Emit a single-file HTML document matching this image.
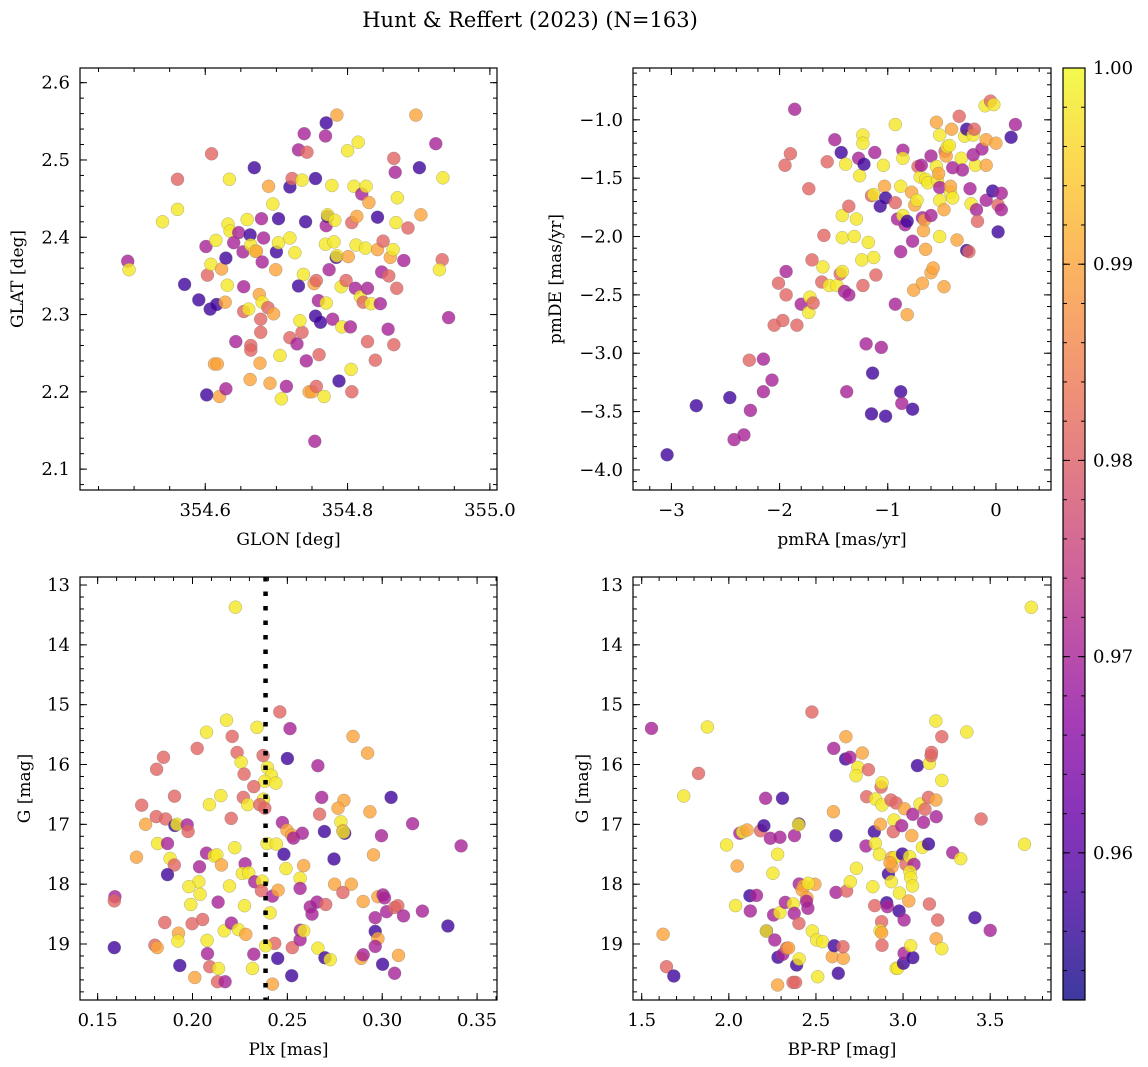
<!DOCTYPE html>
<html><head><meta charset="utf-8">
<style>
html,body{margin:0;padding:0;background:#fff;}
svg{display:block;font-family:"DejaVu Serif","Liberation Serif",serif;}
</style></head>
<body>
<svg id="fig" width="1148" height="1067" viewBox="0 0 1148 1067" xmlns="http://www.w3.org/2000/svg">
<rect width="1148" height="1067" fill="#fff"/>
<text x="530" y="27" font-size="21" text-anchor="middle">Hunt &amp; Reffert (2023) (N=163)</text>
</svg>
<script>
// membership probability levels
const Y=0.998, O=0.99, K=0.981, P=0.97, I=0.957;
// ---------- Panel A: GLON / GLAT ----------
const glon=[354.491,354.493,354.540,354.561,354.561,354.609,354.634,354.669,354.571,354.591,354.607,354.616,354.603,354.601,354.608,354.615,354.623,354.629,354.628,354.631,354.632,354.635,354.640,354.647,354.643,354.613,354.617,354.602,354.620,354.629,354.653,354.654,354.654,354.659,354.663,354.664,354.661,354.664,354.664,354.663,354.670,354.672,354.679,354.680,354.682,354.676,354.680,354.678,354.678,354.677,354.688,354.691,354.689,354.695,354.696,354.700,354.703,354.703,354.699,354.705,354.714,354.707,354.719,354.719,354.722,354.726,354.719,354.729,354.731,354.736,354.736,354.738,354.731,354.733,354.739,354.741,354.742,354.743,354.746,354.750,354.753,354.755,354.754,354.756,354.756,354.755,354.759,354.760,354.762,354.767,354.769,354.770,354.770,354.769,354.770,354.772,354.772,354.774,354.778,354.779,354.781,354.782,354.784,354.785,354.785,354.788,354.792,354.791,354.798,354.800,354.801,354.804,354.805,354.806,354.806,354.809,354.813,354.812,354.811,354.815,354.818,354.820,354.822,354.826,354.825,354.828,354.828,354.830,354.833,354.839,354.842,354.842,354.846,354.848,354.850,354.858,354.857,354.860,354.864,354.865,354.865,354.867,354.869,354.870,354.868,354.879,354.885,354.896,354.901,354.903,354.924,354.933,354.929,354.934,354.942];
const glat=[2.369,2.358,2.420,2.436,2.475,2.508,2.475,2.490,2.339,2.319,2.307,2.313,2.351,2.388,2.365,2.396,2.359,2.373,2.316,2.338,2.417,2.408,2.393,2.406,2.265,2.236,2.236,2.196,2.194,2.204,2.381,2.336,2.304,2.423,2.403,2.390,2.307,2.260,2.254,2.216,2.382,2.382,2.424,2.368,2.399,2.326,2.316,2.294,2.277,2.237,2.309,2.211,2.466,2.443,2.301,2.381,2.424,2.393,2.358,2.247,2.207,2.191,2.399,2.465,2.476,2.380,2.270,2.262,2.513,2.474,2.277,2.352,2.337,2.292,2.534,2.420,2.240,2.510,2.200,2.200,2.340,2.476,2.136,2.207,2.344,2.298,2.318,2.248,2.290,2.194,2.531,2.548,2.315,2.391,2.415,2.427,2.429,2.358,2.467,2.294,2.394,2.422,2.374,2.558,2.376,2.214,2.284,2.336,2.344,2.512,2.375,2.284,2.229,2.200,2.419,2.466,2.427,2.390,2.334,2.523,2.323,2.456,2.316,2.466,2.386,2.334,2.265,2.445,2.314,2.241,2.426,2.384,2.314,2.355,2.395,2.350,2.281,2.374,2.384,2.261,2.502,2.484,2.334,2.451,2.419,2.370,2.412,2.558,2.490,2.429,2.521,2.371,2.358,2.477,2.296];
const probA=[P,Y,Y,Y,K,K,Y,I,I,I,I,I,K,P,Y,Y,O,I,O,Y,Y,Y,P,P,P,O,O,I,O,P,P,P,K,Y,I,Y,Y,K,K,O,Y,O,P,P,P,O,Y,K,K,O,K,O,O,Y,O,I,I,Y,O,Y,P,Y,Y,I,K,Y,K,P,P,Y,K,Y,I,Y,P,I,P,K,O,O,O,I,P,K,K,I,P,K,I,Y,P,I,Y,Y,P,I,Y,P,Y,P,Y,Y,I,O,Y,I,Y,Y,K,Y,O,P,Y,K,K,Y,O,Y,P,Y,Y,P,K,Y,Y,P,K,O,Y,K,I,O,P,P,K,K,P,O,Y,K,K,P,K,Y,Y,P,K,O,I,O,P,K,Y,Y,P];
// ---------- Panel B: pmRA / pmDE ----------
const pmra=[-3.04,-2.77,-2.46,-2.42,-2.33,-2.27,-2.28,-2.15,-2.15,-2.07,-2.05,-2.01,-1.97,-1.94,-1.94,-1.84,-1.80,-1.73,-1.72,-1.69,-1.70,-1.73,-1.90,-1.95,-1.86,-1.60,-1.61,-1.59,-1.56,-1.54,-1.49,-1.47,-1.44,-1.42,-1.43,-1.39,-1.42,-1.42,-1.40,-1.36,-1.36,-1.31,-1.29,-1.27,-1.26,-1.23,-1.23,-1.22,-1.23,-1.24,-1.20,-1.18,-1.15,-1.13,-1.13,-1.11,-1.12,-1.14,-1.15,-1.06,-1.07,-1.38,-1.04,-1.03,-1.02,-1.02,-0.93,-0.93,-0.93,-0.91,-0.88,-0.88,-0.86,-0.86,-0.86,-0.84,-0.82,-0.82,-0.77,-0.78,-0.75,-0.73,-0.72,-0.70,-0.69,-0.68,-0.66,-0.67,-0.65,-0.65,-0.63,-0.60,-0.60,-0.60,-0.58,-0.76,-0.68,-0.55,-0.55,-0.54,-0.53,-0.52,-0.52,-0.52,-0.52,-0.48,-0.48,-0.47,-0.46,-0.45,-0.43,-0.42,-0.42,-0.41,-0.40,-0.40,-0.36,-0.34,-0.32,-0.31,-0.29,-0.27,-0.27,-0.25,-0.24,-0.23,-0.21,-0.20,-0.19,-0.21,-0.18,-0.17,-0.13,-0.09,-0.09,-0.09,-0.10,-0.05,-0.02,-0.03,0.00,0.02,0.05,0.05,0.02,0.14,0.18,-0.88,-0.87,-0.77];
const pmde=[-3.87,-3.45,-3.38,-3.74,-3.70,-3.49,-3.06,-3.05,-3.33,-3.23,-2.76,-2.40,-2.72,-2.30,-2.50,-2.76,-2.58,-2.65,-2.52,-2.57,-2.20,-1.59,-1.29,-1.39,-0.91,-2.26,-2.39,-1.99,-1.36,-2.42,-1.17,-2.42,-2.32,-2.30,-1.28,-1.38,-1.82,-2.01,-2.47,-2.50,-1.74,-2.00,-1.85,-1.33,-1.48,-1.13,-1.20,-1.38,-2.42,-2.20,-2.92,-2.05,-1.65,-2.18,-1.64,-2.33,-1.28,-3.17,-3.52,-2.95,-1.74,-3.33,-1.39,-1.57,-1.67,-3.54,-1.04,-1.71,-2.58,-1.85,-2.13,-1.57,-1.26,-1.33,-1.82,-1.90,-1.87,-2.67,-2.04,-1.62,-1.73,-1.69,-1.40,-1.49,-1.39,-1.84,-1.86,-1.95,-2.11,-1.51,-1.54,-1.82,-1.31,-2.31,-2.27,-2.46,-2.40,-1.02,-1.40,-1.52,-1.46,-2.00,-1.58,-1.13,-1.69,-2.43,-1.77,-1.27,-1.31,-1.23,-1.22,-1.62,-1.57,-1.08,-1.67,-1.41,-2.03,-0.97,-1.33,-1.43,-1.14,-1.08,-2.12,-2.13,-1.59,-1.72,-1.13,-1.08,-1.39,-1.30,-1.77,-1.87,-1.25,-1.39,-1.17,-1.69,-0.88,-0.84,-0.87,-1.61,-1.20,-1.73,-1.77,-1.63,-1.96,-1.15,-1.04,-3.33,-3.43,-3.48];
const probB=[I,I,I,P,P,P,K,P,P,P,K,K,K,P,K,K,P,Y,Y,K,K,K,K,K,P,Y,K,K,K,Y,P,Y,K,Y,I,Y,Y,Y,P,P,K,Y,Y,P,Y,Y,Y,I,K,Y,P,Y,K,Y,Y,K,P,I,I,P,I,P,Y,O,I,I,Y,K,P,P,P,Y,P,Y,Y,P,I,O,P,O,O,Y,K,Y,P,P,O,O,O,Y,Y,P,P,O,O,O,O,O,Y,Y,O,Y,P,Y,Y,O,O,K,O,Y,Y,Y,O,O,Y,P,O,K,Y,P,Y,I,I,K,P,Y,Y,K,Y,P,P,K,P,O,O,P,Y,K,Y,I,O,K,P,P,I,I,P,I,P,I];
// ---------- Panel C: Plx / G ----------
const plx=[.2226,.2460,.2514,.2179,.2340,.2074,.2209,.2846,.2923,.2025,.1847,.1811,.2235,.2256,.2272,.2372,.2500,.2661,.2395,.2416,.2381,.2439,.2323,.2149,.2089,.1905,.1732,.2268,.2291,.2374,.2354,.2381,.2681,.3047,.2798,.2767,.2935,.2670,.2204,.1809,.1858,.1753,.1907,.1918,.1972,.1977,.2474,.2498,.2523,.2532,.2579,.2695,.2782,.2793,.2802,.2796,.2996,.3160,.3416,.1816,.1868,.1705,.1882,.1904,.1868,.2074,.2114,.2128,.2153,.2037,.2223,.2277,.2263,.2296,.2393,.2442,.2482,.2493,.2586,.2567,.2746,.2954,.2033,.1981,.2040,.1991,.2135,.2195,.2274,.2328,.2368,.2363,.2421,.2451,.2567,.2749,.2837,.2793,.2900,.2977,.3004,.3012,.2621,.2630,.2656,.2702,.3023,.3065,.3082,.3112,.3212,.2963,.3346,.1591,.1588,.1588,.1802,.1814,.1854,.1926,.1923,.1998,.2053,.2077,.2079,.2167,.2205,.2242,.2281,.2409,.2433,.2386,.2526,.2568,.2567,.2586,.2661,.2698,.2726,.2889,.2900,.2963,.2977,.2963,.3002,.3086,.3065,.1933,.2091,.2137,.2012,.2132,.2172,.2316,.2323,.2449,.2421,.2523];
const gmagC=[13.37,15.12,15.40,15.26,15.38,15.46,15.53,15.53,15.81,15.73,15.88,16.08,15.80,15.96,16.16,15.85,15.90,16.02,16.05,16.18,16.28,16.31,16.37,16.52,16.67,16.53,16.68,16.55,16.67,16.58,16.67,16.73,16.55,16.55,16.60,16.73,16.79,16.83,16.90,16.87,16.91,17.00,17.02,17.00,17.01,17.12,16.97,17.10,17.18,17.23,17.15,17.12,16.96,17.11,17.15,17.13,17.19,16.99,17.36,17.32,17.32,17.55,17.57,17.68,17.84,17.48,17.53,17.51,17.68,17.71,17.39,17.66,17.82,17.81,17.32,17.33,17.50,17.74,17.69,17.90,17.58,17.51,17.96,18.04,18.17,18.34,18.30,18.03,18.36,17.96,17.95,18.11,18.20,18.10,18.07,18.00,18.00,18.14,18.29,18.21,18.18,18.23,18.38,18.50,18.30,18.34,18.46,18.39,18.36,18.53,18.45,18.56,18.70,18.21,18.28,19.06,19.02,19.06,18.64,18.82,18.95,18.66,18.59,18.94,19.16,18.78,18.65,18.76,18.84,18.48,18.99,19.03,19.06,18.77,18.93,18.78,19.07,19.23,19.26,19.24,19.18,18.79,18.91,19.04,19.34,19.19,19.49,19.36,19.38,19.41,19.56,19.63,19.63,19.41,19.17,19.24,19.67,19.53];
const probC=[Y,K,P,Y,Y,Y,K,O,O,K,K,K,K,Y,K,K,I,P,Y,Y,Y,Y,K,Y,Y,K,K,K,Y,Y,K,K,P,I,O,O,O,K,K,K,K,O,I,Y,P,K,P,O,O,P,P,I,Y,O,I,Y,P,P,P,Y,P,O,Y,K,I,P,Y,Y,O,P,Y,P,Y,Y,Y,Y,I,Y,O,Y,I,O,Y,Y,Y,Y,P,Y,Y,P,Y,K,P,O,P,O,O,K,O,O,P,P,P,P,P,K,P,K,K,P,P,P,I,P,K,I,K,O,K,O,Y,K,K,Y,P,Y,P,Y,O,Y,K,Y,K,P,P,Y,Y,I,Y,O,P,I,O,P,I,O,P,I,K,Y,O,K,P,Y,P,I,O,I];
// ---------- Panel D: BP-RP / G ----------
const bprp=[1.556,1.877,1.826,1.741,1.623,1.642,1.684,2.211,2.308,1.987,2.048,2.063,2.079,2.105,2.182,2.201,2.238,2.293,2.280,2.253,2.377,2.402,2.400,2.038,2.121,2.159,2.123,2.216,2.215,2.257,2.293,2.324,2.370,2.375,2.402,2.404,2.429,2.421,2.448,2.454,2.446,2.494,2.456,2.264,2.282,2.310,2.331,2.343,2.389,2.404,2.280,2.368,2.383,2.510,2.479,2.504,2.538,2.477,2.600,2.602,2.615,2.615,2.676,2.594,2.657,2.605,2.655,2.628,2.672,2.670,2.695,2.766,2.741,2.730,2.801,2.791,2.697,2.732,2.787,2.826,2.835,2.841,2.841,2.864,2.870,2.879,2.874,2.879,2.837,2.877,2.879,2.868,2.877,2.906,2.910,2.931,2.960,2.948,2.944,2.935,2.916,2.933,2.954,2.937,2.925,2.979,2.977,2.996,2.992,3.008,3.017,3.038,3.050,3.063,3.056,3.033,3.040,3.044,3.054,3.006,2.960,2.969,3.002,3.006,3.056,3.044,3.117,3.082,3.098,3.111,3.146,3.151,3.161,3.163,3.146,3.126,3.188,3.190,3.188,3.222,3.222,3.151,3.199,3.190,3.222,3.285,3.331,3.366,3.448,3.412,3.500,3.697,3.736];
const gmagD=[15.396,15.373,16.148,16.526,18.838,19.379,19.535,16.565,16.565,17.345,17.696,17.150,17.128,17.095,17.106,17.022,17.234,17.217,17.501,17.819,17.189,16.994,17.006,18.359,18.192,18.187,18.448,18.783,18.783,18.515,18.476,18.304,18.331,18.487,18.655,17.997,18.031,18.097,18.226,18.404,18.287,18.003,17.986,18.933,19.223,19.173,19.072,19.067,19.351,19.251,19.685,19.641,19.641,19.546,18.783,18.933,18.961,15.123,16.788,15.730,17.189,18.137,18.114,19.212,19.240,19.028,19.045,19.490,15.535,15.908,15.880,15.808,16.047,16.187,16.086,16.538,17.958,17.735,17.362,18.042,17.123,17.318,16.577,17.501,17.000,16.677,16.376,16.304,18.359,18.627,19.022,18.777,18.811,18.309,18.376,16.593,16.643,16.928,17.123,17.557,17.830,17.958,17.552,17.708,17.641,18.148,18.448,17.496,17.022,16.738,17.669,17.540,17.189,17.669,16.833,18.281,17.791,17.891,18.031,18.599,19.407,19.407,19.323,19.156,19.228,19.028,16.967,16.019,16.660,17.384,17.329,15.981,15.852,15.797,16.549,16.749,16.593,16.872,15.273,15.535,16.265,18.331,18.599,18.911,19.078,17.473,17.574,15.457,16.911,18.560,18.772,17.334,13.373];
const probD=[P,Y,K,Y,O,K,I,P,I,Y,O,P,Y,O,K,I,P,P,Y,Y,P,I,Y,Y,I,P,P,I,Y,P,Y,P,Y,P,K,P,O,O,O,P,P,O,Y,P,I,P,K,O,I,Y,O,K,K,Y,Y,Y,Y,K,O,P,I,P,K,O,O,I,K,I,O,I,P,O,Y,Y,K,K,Y,Y,P,Y,I,Y,Y,Y,O,Y,K,Y,K,K,K,Y,O,I,P,K,K,Y,K,O,I,Y,Y,O,O,Y,I,I,P,O,K,Y,O,P,P,O,Y,Y,Y,P,Y,Y,I,P,I,Y,P,I,Y,Y,I,Y,K,K,K,K,O,P,Y,K,Y,K,K,O,Y,P,Y,Y,K,I,P,Y,Y];
// ---------- tick labels ----------
const ticksA_x=[354.6,354.8,355.0], ticksA_y=[2.1,2.2,2.3,2.4,2.5,2.6];
const ticksB_x=[-3,-2,-1,0], ticksB_y=[-4.0,-3.5,-3.0,-2.5,-2.0,-1.5,-1.0];
const ticksC_x=[0.15,0.20,0.25,0.30,0.35], ticksG=[13,14,15,16,17,18,19];
const ticksD_x=[1.5,2.0,2.5,3.0,3.5];
const cbTicks=[0.96,0.97,0.98,0.99,1.00];
const plxLine=0.2385;
const vmin=0.9525, vmax=1.0;

const NS="http://www.w3.org/2000/svg";
const svg=document.getElementById('fig');
function mk(tag,attrs,parent){const e=document.createElementNS(NS,tag);for(const k in attrs)e.setAttribute(k,attrs[k]);(parent||svg).appendChild(e);return e;}
const stops=[[0,13,8,135],[.1,65,4,157],[.2,106,0,168],[.3,143,13,164],[.4,177,42,144],[.5,204,71,120],[.6,225,100,98],[.7,242,132,75],[.8,252,166,54],[.9,252,206,37],[1,240,249,33]];
function plasma(t){t=Math.max(0,Math.min(1,t));for(let i=1;i<stops.length;i++){if(t<=stops[i][0]){const a=stops[i-1],b=stops[i];const f=(t-a[0])/(b[0]-a[0]);return `rgb(${Math.round(a[1]+f*(b[1]-a[1]))},${Math.round(a[2]+f*(b[2]-a[2]))},${Math.round(a[3]+f*(b[3]-a[3]))})`;}}return 'rgb(240,249,33)';}
function fmt(v,d){return (v<0?'\u2212':'')+Math.abs(v).toFixed(d);}
const TF=18, LF=17;

function panel(o){
  const g=mk('g',{});
  
  
  const sx=v=>o.L+(v-o.x0)/(o.x1-o.x0)*(o.R-o.L);
  const sy=v=>o.B-(v-o.y0)/(o.y1-o.y0)*(o.B-o.T);
  const cp='cp'+o.name;
  const d=mk('clipPath',{id:cp},g);mk('rect',{x:o.L,y:o.T,width:o.R-o.L,height:o.B-o.T},d);
  const pts=mk('g',{'clip-path':`url(#${cp})`},g);
  const n=Math.min(o.xs.length,o.ys.length);
  for(let i=0;i<n;i++){
    const p=o.ps[i]!==undefined?o.ps[i]:0.99;
    const c=mk('circle',{cx:sx(o.xs[i]).toFixed(1),cy:sy(o.ys[i]).toFixed(1),r:6.5,fill:plasma((p-vmin)/(vmax-vmin)),'fill-opacity':0.8,stroke:'#777','stroke-width':0.4,'stroke-opacity':0.7},pts);
    
    
  }
  if(o.vline!==undefined){
    const l=mk('line',{x1:sx(o.vline),x2:sx(o.vline),y1:o.T,y2:o.B,stroke:'#000','stroke-width':4.5,'stroke-dasharray':'4.5 10'},g);
    
    
  }
  const tk=mk('g',{stroke:'#000','stroke-width':1},g);
  function xt(v,len){const x=sx(v);if(x<o.L-0.5||x>o.R+0.5)return;mk('line',{x1:x,x2:x,y1:o.B,y2:o.B-len},tk);mk('line',{x1:x,x2:x,y1:o.T,y2:o.T+len},tk);}
  function yt(v,len){const y=sy(v);if(y<o.T-0.5||y>o.B+0.5)return;mk('line',{x1:o.L,x2:o.L+len,y1:y,y2:y},tk);mk('line',{x1:o.R,x2:o.R-len,y1:y,y2:y},tk);}
  const lo=Math.min(o.x0,o.x1),hi=Math.max(o.x0,o.x1);
  for(let k=Math.ceil(lo/o.xm-1e-6);k*o.xm<=hi+1e-9;k++)xt(k*o.xm,4);
  const ylo=Math.min(o.y0,o.y1),yhi=Math.max(o.y0,o.y1);
  for(let k=Math.ceil(ylo/o.ym-1e-6);k*o.ym<=yhi+1e-9;k++)yt(k*o.ym,4);
  o.xt.forEach(v=>{xt(v,7);const t=mk('text',{x:sx(v),y:o.B+26,'font-size':TF,'text-anchor':'middle'},g);t.textContent=fmt(v,o.xd);});
  o.yt.forEach(v=>{yt(v,7);const t=mk('text',{x:o.L-10,y:sy(v)+6,'font-size':TF,'text-anchor':'end'},g);t.textContent=fmt(v,o.yd);});
  mk('rect',{x:o.L,y:o.T,width:o.R-o.L,height:o.B-o.T,fill:'none',stroke:'#000','stroke-width':1.2},g);
  const xl=mk('text',{x:(o.L+o.R)/2,y:o.B+55,'font-size':LF,'text-anchor':'middle'},g);xl.textContent=o.xlab;
  
  const yx=o.ylx,yy=(o.T+o.B)/2;
  const yl=mk('text',{x:yx,y:yy,'font-size':LF,'text-anchor':'middle',transform:`rotate(-90 ${yx} ${yy})`},g);yl.textContent=o.ylab;
  
}
panel({name:'glon-glat-panel',L:80,R:497,T:68,B:490,x0:354.424,x1:355.010,y0:2.073,y1:2.619,xm:0.05,ym:0.02,xt:ticksA_x,yt:ticksA_y,xd:1,yd:1,xs:glon,ys:glat,ps:probA,xlab:'GLON [deg]',ylab:'GLAT [deg]',ylx:23});
panel({name:'pm-panel',L:633,R:1051,T:68,B:490,x0:-3.355,x1:0.509,y0:-4.172,y1:-0.556,xm:0.2,ym:0.1,xt:ticksB_x,yt:ticksB_y,xd:0,yd:1,xs:pmra,ys:pmde,ps:probB,xlab:'pmRA [mas/yr]',ylab:'pmDE [mas/yr]',ylx:561});
panel({name:'plx-g-panel',L:80,R:497,T:577,B:1000,x0:0.1407,x1:0.3605,y0:19.936,y1:12.866,xm:0.01,ym:0.2,xt:ticksC_x,yt:ticksG,xd:2,yd:0,xs:plx,ys:gmagC,ps:probC,xlab:'Plx [mas]',ylab:'G [mag]',ylx:30,vline:plxLine});
panel({name:'cmd-panel',L:633,R:1051,T:577,B:1000,x0:1.450,x1:3.849,y0:19.936,y1:12.866,xm:0.1,ym:0.2,xt:ticksD_x,yt:ticksG,xd:1,yd:0,xs:bprp,ys:gmagD,ps:probD,xlab:'BP-RP [mag]',ylab:'G [mag]',ylx:588});

// colorbar
const cb=mk('g',{});


const CL=1063,CR=1085,CT=68,CB=1000;
const defs=mk('defs',{},cb);
const lg=mk('linearGradient',{id:'cbg',x1:0,y1:1,x2:0,y2:0},defs);
for(let i=0;i<=20;i++){mk('stop',{offset:i/20,'stop-color':plasma(i/20),'stop-opacity':0.8},lg);}
mk('rect',{x:CL,y:CT,width:CR-CL,height:CB-CT,fill:'url(#cbg)'},cb);
const cy=v=>CB-(v-vmin)/(vmax-vmin)*(CB-CT);
for(let k=Math.ceil(vmin/0.002);k*0.002<=vmax+1e-9;k++){const y=cy(k*0.002);mk('line',{x1:CR,x2:CR-4,y1:y,y2:y,stroke:'#000'},cb);mk('line',{x1:CL,x2:CL+4,y1:y,y2:y,stroke:'#000'},cb);}
cbTicks.forEach(v=>{const y=cy(v);mk('line',{x1:CR,x2:CR-7,y1:y,y2:y,stroke:'#000'},cb);mk('line',{x1:CL,x2:CL+7,y1:y,y2:y,stroke:'#000'},cb);
 const t=mk('text',{x:CR+8,y:y+6,'font-size':TF},cb);t.textContent=v.toFixed(2);});
mk('rect',{x:CL,y:CT,width:CR-CL,height:CB-CT,fill:'none',stroke:'#000','stroke-width':1.2},cb);
</script>
</body></html>
